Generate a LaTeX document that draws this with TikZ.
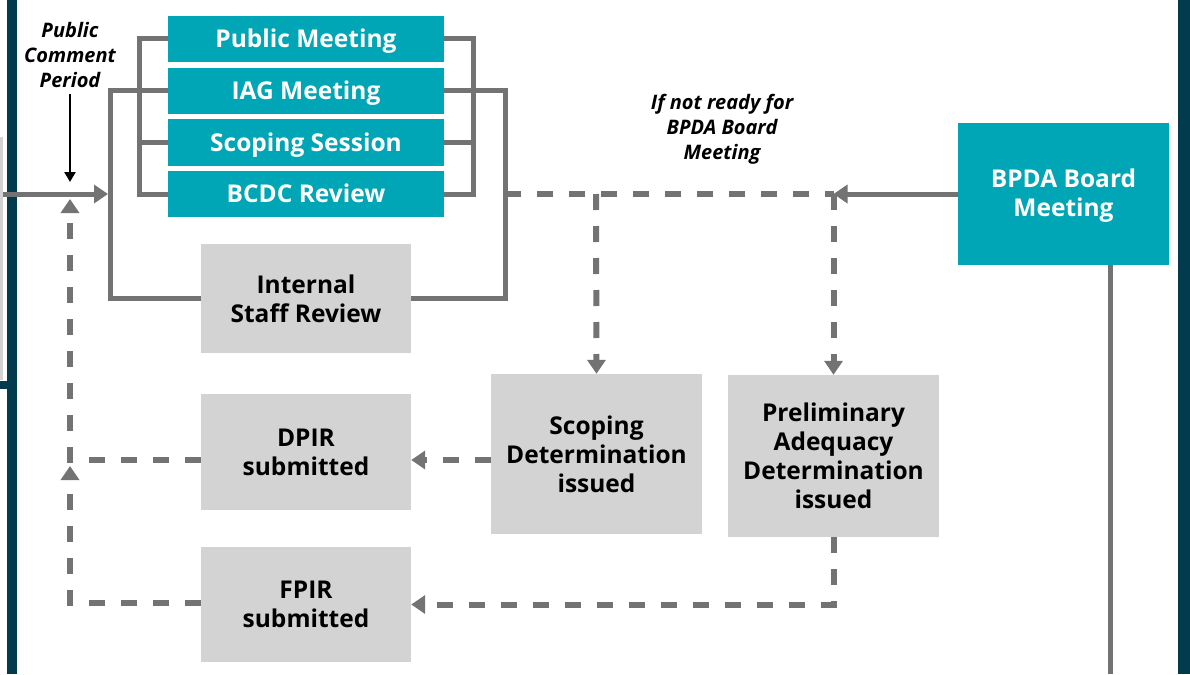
\documentclass[tikz,border=0pt]{standalone}
\usepackage{fontspec}
\setmainfont{Open Sans}
\IfFontExistsTF{Open Sans SemiBold Italic}{\newfontfamily\notefont{Open Sans SemiBold Italic}}{\newcommand\notefont{\bfseries\itshape}}
\usetikzlibrary{arrows.meta}
\definecolor{bpdateal}{RGB}{0,166,181}
\definecolor{boxgray}{RGB}{211,211,211}
\definecolor{linegray}{RGB}{115,115,115}
\definecolor{edgegray}{RGB}{210,210,210}
\definecolor{navy}{RGB}{2,58,78}

\begin{document}
\begin{tikzpicture}[x=1pt,y=-1pt,
		teal box/.style={fill=bpdateal,text=white,font=\bfseries\fontsize{24.5}{29}\selectfont,minimum width=276pt,minimum height=46pt,inner sep=0pt,align=center},
		gray box/.style={fill=boxgray,text=black,font=\bfseries\fontsize{24.5}{29}\selectfont,minimum width=211pt,inner sep=0pt,align=center},
		note/.style={font=\notefont\fontsize{20}{25}\selectfont,align=center,inner sep=0pt},
		flow/.style={draw=linegray,line width=5pt},
		maybe/.style={draw=linegray,line width=6pt,dash pattern=on 16pt off 16pt},
		>={Triangle[length=14pt,width=18pt]}]
				\useasboundingbox (0,0) rectangle (1190,674);
				\fill[navy] (7,0) rectangle (17,674);
				\fill[navy] (1178,0) rectangle (1190,674);
				\fill[navy] (0,381) rectangle (12,389);
				\fill[edgegray] (0,137) rectangle (3,380);
				\node[teal box,text height=17pt,text depth=0pt] (pubmeet) at (306,39) {Public Meeting};
				\node[teal box,text height=17pt,text depth=0pt] (iagmeet) at (306,91) {IAG Meeting};
				\node[teal box,text height=17pt,text depth=0pt] (scopsess) at (306,142.5) {Scoping Session};
				\node[teal box,text height=17pt,text depth=0pt] (bcdc) at (306,194) {BCDC Review};
				\node[gray box,minimum width=210pt,minimum height=109pt] (staffrev) at (306,298.5) {Internal\\Staff Review};
				\node[gray box,minimum width=210pt,minimum height=116pt] (dpir) at (306,452) {DPIR\\submitted};
				\node[gray box,minimum width=210pt,minimum height=115pt] (fpir) at (306,604.5) {FPIR\\submitted};
				\node[gray box,minimum height=160pt] (scopdet) at (596.5,454) {Scoping\\Determination\\issued};
				\node[gray box,minimum height=162pt] (prelim) at (833.5,456) {Preliminary\\Adequacy\\Determination\\issued};
				\node[teal box,minimum width=211pt,minimum height=142pt] (board) at (1063.5,194) {BPDA Board\\Meeting\\[-26pt]};
				\node[note] (comment) at (70,55) {Public\\Comment\\Period};
				\node[note] (notready) at (722,129) {If not ready for\\BPDA Board\\Meeting};
				\coordinate (start) at (3,194);
				\coordinate (inlet) at (108,194);
				\coordinate (commentend) at (70,182);
				\coordinate (outerl) at (110,298.5);
				\coordinate (outerr) at (505,298.5);
				\coordinate (innerl) at (139,194);
				\coordinate (innerr) at (473,194);
				\coordinate (split) at (596,194);
				\coordinate (junction) at (833.5,194);
				\coordinate (dpirleft) at (70,460);
				\coordinate (backtop) at (70,199);
				\coordinate (fpirleft) at (70,603);
				\coordinate (backmid) at (70,466);
				\draw[black,line width=2.5pt,-{Triangle[length=10pt,width=11pt]}] (comment.south) ++(0,6) -- (commentend);
				\draw[flow,->] (start) -- (inlet);
				\draw[flow] (iagmeet.west) -| (outerl) -- (staffrev.west);
				\draw[flow] (iagmeet.east) -| (outerr) -- (staffrev.east);
				\draw[flow] (pubmeet.west) -| (innerl) -- (bcdc.west);
				\draw[flow] (scopsess.west) -- (innerl |- scopsess.west);
				\draw[flow] (pubmeet.east) -| (innerr) -- (bcdc.east);
				\draw[flow] (scopsess.east) -- (innerr |- scopsess.east);
				\draw[flow,->] (board.west) -- (junction);
				\draw[maybe] (outerr |- bcdc.east) -- (junction);
				\draw[maybe,->] (split) -- (scopdet.north);
				\draw[maybe,->] (junction) -- (prelim.north);
				\draw[flow] (board.south) ++(46.5,0) -- ++(0,409);
				\draw[maybe,->] (scopdet.west |- dpirleft) -- (dpir.east |- dpirleft);
				\draw[maybe,->] (dpir.west |- dpirleft) -- (dpirleft) -- (backtop);
				\draw[maybe,->] (prelim.south) |- (fpir.east);
				\draw[maybe,->] (fpir.west |- fpirleft) -- (fpirleft) -- (backmid);
			\end{tikzpicture}
\end{document}
